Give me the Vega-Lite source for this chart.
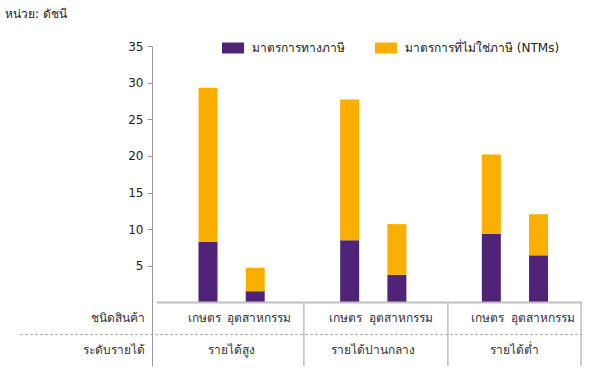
{
  "$schema": "https://vega.github.io/schema/vega-lite/v6.json",
  "width": 435,
  "height": 320,
  "autosize": {"type": "none"},
  "padding": {"left": 152, "top": 46, "right": 17, "bottom": 12},
  "background": "white",
  "config": {
    "view": {"stroke": null},
    "font": "Tahoma, DejaVu Sans, sans-serif",
    "text": {"font": "Tahoma, DejaVu Sans, sans-serif"}
  },
  "title": {
    "text": "หน่วย: ดัชนี",
    "anchor": "start",
    "frame": "group",
    "dx": -147,
    "dy": 14,
    "offset": 18,
    "baseline": "bottom",
    "fontSize": 12,
    "fontWeight": "normal",
    "color": "#222222"
  },
  "datasets": {
    "bars": [
      {"income": "รายได้สูง", "product": "เกษตร", "pos": 1, "measure": "มาตรการทางภาษี", "order": 1, "value": 8.3},
      {"income": "รายได้สูง", "product": "เกษตร", "pos": 1, "measure": "มาตรการที่ไม่ใช่ภาษี (NTMs)", "order": 2, "value": 21.0},
      {"income": "รายได้สูง", "product": "อุตสาหกรรม", "pos": 2, "measure": "มาตรการทางภาษี", "order": 1, "value": 1.55},
      {"income": "รายได้สูง", "product": "อุตสาหกรรม", "pos": 2, "measure": "มาตรการที่ไม่ใช่ภาษี (NTMs)", "order": 2, "value": 3.2},
      {"income": "รายได้ปานกลาง", "product": "เกษตร", "pos": 4, "measure": "มาตรการทางภาษี", "order": 1, "value": 8.5},
      {"income": "รายได้ปานกลาง", "product": "เกษตร", "pos": 4, "measure": "มาตรการที่ไม่ใช่ภาษี (NTMs)", "order": 2, "value": 19.2},
      {"income": "รายได้ปานกลาง", "product": "อุตสาหกรรม", "pos": 5, "measure": "มาตรการทางภาษี", "order": 1, "value": 3.8},
      {"income": "รายได้ปานกลาง", "product": "อุตสาหกรรม", "pos": 5, "measure": "มาตรการที่ไม่ใช่ภาษี (NTMs)", "order": 2, "value": 6.9},
      {"income": "รายได้ต่ำ", "product": "เกษตร", "pos": 7, "measure": "มาตรการทางภาษี", "order": 1, "value": 9.4},
      {"income": "รายได้ต่ำ", "product": "เกษตร", "pos": 7, "measure": "มาตรการที่ไม่ใช่ภาษี (NTMs)", "order": 2, "value": 10.8},
      {"income": "รายได้ต่ำ", "product": "อุตสาหกรรม", "pos": 8, "measure": "มาตรการทางภาษี", "order": 1, "value": 6.45},
      {"income": "รายได้ต่ำ", "product": "อุตสาหกรรม", "pos": 8, "measure": "มาตรการที่ไม่ใช่ภาษี (NTMs)", "order": 2, "value": 5.6}
    ],
    "groups": [
      {"income": "รายได้สูง", "center": 1.5, "divider": 3.03},
      {"income": "รายได้ปานกลาง", "center": 4.5, "divider": 6.08},
      {"income": "รายได้ต่ำ", "center": 7.5, "divider": 8.9}
    ],
    "rowheads": [
      {"label": "ชนิดสินค้า", "row": -2.14},
      {"label": "ระดับรายได้", "row": -6.5}
    ],
    "one": [{}]
  },
  "layer": [
    {
      "data": {"name": "bars"},
      "mark": {"type": "bar", "size": 19},
      "encoding": {
        "x": {"field": "pos", "type": "quantitative", "scale": {"domain": [-0.08, 8.92], "nice": false, "zero": false}, "axis": null},
        "y": {"field": "value", "type": "quantitative", "stack": "zero",
          "scale": {"domain": [-8.65, 35], "nice": false, "zero": false},
          "axis": {"values": [5, 10, 15, 20, 25, 30, 35], "title": null, "grid": false, "domainColor": "#999999", "domainWidth": 1, "tickColor": "#999999", "tickSize": 5, "labelPadding": 4, "labelFontSize": 12, "labelColor": "#222222", "labelFont": "Tahoma, DejaVu Sans, sans-serif"}},
        "color": {"field": "measure", "type": "nominal",
          "scale": {"domain": ["มาตรการทางภาษี", "มาตรการที่ไม่ใช่ภาษี (NTMs)"], "range": ["#4E2378", "#F9AF00"]},
          "legend": {"orient": "none", "legendX": 70, "legendY": -9, "direction": "horizontal", "title": null,
            "symbolType": "M-1,-0.5H1V0.5H-1Z", "symbolSize": 484, "symbolStrokeWidth": 0, "symbolOpacity": 1,
            "labelFontSize": 12, "labelColor": "#222222", "labelOffset": 8, "columnPadding": 30, "labelLimit": 300,
            "labelFont": "Tahoma, DejaVu Sans, sans-serif"}},
        "order": {"field": "order", "type": "quantitative"}
      }
    },
    {
      "data": {"name": "one"},
      "mark": {"type": "rule", "color": "#BFBFBF", "strokeWidth": 2},
      "encoding": {"y": {"datum": 0}, "x": {"datum": -0.08}, "x2": {"datum": 8.92}}
    },
    {
      "data": {"name": "groups"},
      "mark": {"type": "rule", "color": "#BFBFBF", "strokeWidth": 1.5},
      "encoding": {"x": {"field": "divider", "type": "quantitative"}, "y": {"datum": 0}, "y2": {"datum": -8.65}}
    },
    {
      "data": {"name": "one"},
      "mark": {"type": "rule", "color": "#AAAAAA", "strokeWidth": 1, "strokeDash": [3, 2]},
      "encoding": {"y": {"datum": -4.37}, "x": {"datum": -2.98}, "x2": {"datum": 8.92}}
    },
    {
      "data": {"name": "bars"},
      "transform": [{"filter": "datum.order == 1 && datum.product == 'เกษตร'"}],
      "mark": {"type": "text", "fontSize": 12, "color": "#333333", "baseline": "middle", "align": "center", "dx": -4},
      "encoding": {"x": {"field": "pos", "type": "quantitative"}, "y": {"datum": -2.14}, "text": {"field": "product"}}
    },
    {
      "data": {"name": "bars"},
      "transform": [{"filter": "datum.order == 1 && datum.product != 'เกษตร'"}],
      "mark": {"type": "text", "fontSize": 12, "color": "#333333", "baseline": "middle", "align": "center", "dx": 4},
      "encoding": {"x": {"field": "pos", "type": "quantitative"}, "y": {"datum": -2.14}, "text": {"field": "product"}}
    },
    {
      "data": {"name": "groups"},
      "mark": {"type": "text", "fontSize": 12, "color": "#333333", "baseline": "middle", "align": "center"},
      "encoding": {"x": {"field": "center", "type": "quantitative"}, "y": {"datum": -6.5}, "text": {"field": "income"}}
    },
    {
      "data": {"name": "rowheads"},
      "mark": {"type": "text", "fontSize": 12, "color": "#333333", "baseline": "middle", "align": "right"},
      "encoding": {"x": {"datum": -0.33}, "y": {"field": "row", "type": "quantitative"}, "text": {"field": "label"}}
    }
  ]
}
